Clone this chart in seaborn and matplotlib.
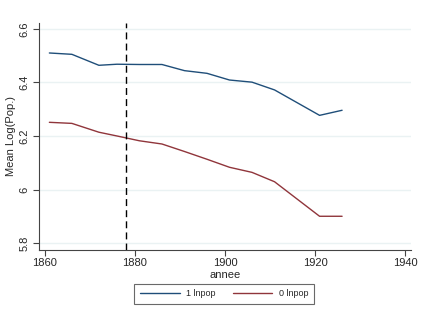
import matplotlib
matplotlib.use("Agg")
import matplotlib.pyplot as plt
import seaborn as sns
import pandas as pd
from matplotlib.lines import Line2D

years = [1861, 1866, 1872, 1876, 1881, 1886, 1891, 1896, 1901, 1906, 1911, 1921, 1926]
lnpop_1 = [6.510, 6.505, 6.464, 6.468, 6.467, 6.467, 6.444, 6.434, 6.409, 6.401, 6.372, 6.277, 6.296]
lnpop_0 = [6.251, 6.247, 6.214, 6.200, 6.182, 6.170, 6.142, 6.113, 6.083, 6.064, 6.029, 5.900, 5.900]
series_labels = ["1 lnpop", "0 lnpop"]
xticks = [1860, 1880, 1900, 1920, 1940]
yticks = [5.8, 6.0, 6.2, 6.4, 6.6]
ytick_labels = ["5.8", "6", "6.2", "6.4", "6.6"]
vline_year = 1878

df = pd.DataFrame({
    "annee": years * 2,
    "val": lnpop_1 + lnpop_0,
    "grp": [series_labels[0]] * len(years) + [series_labels[1]] * len(years),
})

sns.set_style("white")
plt.rcParams["font.family"] = ["Liberation Sans", "DejaVu Sans"]

fig = plt.figure(figsize=(4.22, 3.15), dpi=100)
ax = fig.add_axes([39 / 422, 65 / 315, 372 / 422, 227 / 315])

colors = ["#1f4e79", "#90353b"]
sns.lineplot(data=df, x="annee", y="val", hue="grp", hue_order=series_labels,
             palette=colors, linewidth=1.0, ax=ax, legend=False)

ax.axvline(vline_year, color="black", linestyle=(0, (5, 3)), linewidth=1.0)

ax.set_xlim(1858.7, 1941.3)
ax.set_ylim(5.774, 6.622)
ax.set_xticks(xticks)
ax.set_yticks(yticks)
ax.set_yticklabels(ytick_labels, rotation=90, va="center")
ax.tick_params(axis="both", labelsize=8, length=4, width=0.8, color="#444444",
               direction="out", pad=2, left=True, bottom=True)
ax.tick_params(axis="y", pad=3)
ax.grid(axis="y", color="#eaf2f3", linewidth=1.0)
ax.set_axisbelow(True)
for s in ["top", "right"]:
    ax.spines[s].set_visible(False)
for s in ["left", "bottom"]:
    ax.spines[s].set_color("#444444")
    ax.spines[s].set_linewidth(0.8)

ax.set_xlabel("annee", fontsize=8, labelpad=1)
ax.set_ylabel("Mean Log(Pop.)", fontsize=8, labelpad=2)

handles = [Line2D([], [], color=colors[0], lw=1.0), Line2D([], [], color=colors[1], lw=1.0)]
leg = fig.legend(handles, series_labels, loc="center", bbox_to_anchor=(224 / 422, 1 - 294 / 315),
                 ncol=2, fontsize=6.5, frameon=True, fancybox=False, edgecolor="#444444",
                 handlelength=4.4, columnspacing=1.9, borderpad=0.6, handletextpad=0.7)
leg.get_frame().set_linewidth(0.8)

fig.savefig("out.png", dpi=100)
